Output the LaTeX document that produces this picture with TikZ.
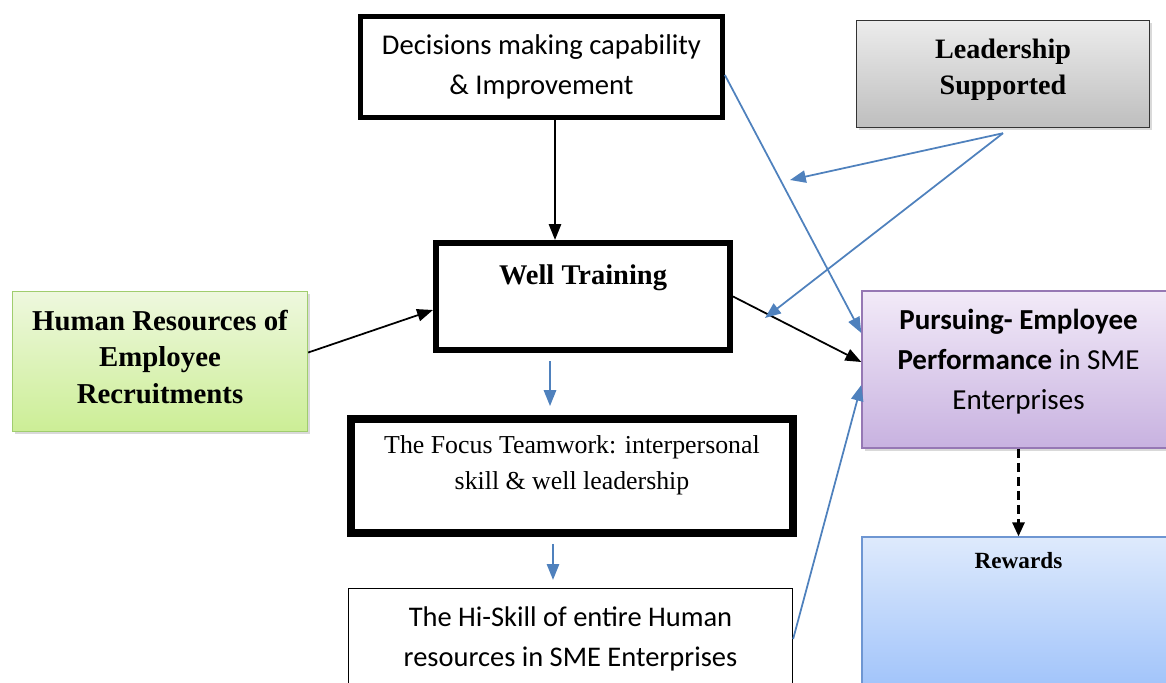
\documentclass[tikz,border=0pt]{standalone}
\usepackage{fontspec}
\setmainfont{Liberation Serif}
\newfontfamily\calfont{Carlito}
\usepackage{tikz}
\usetikzlibrary{arrows.meta,shadows}

\begin{document}
\begin{tikzpicture}[
  thickbox/.style={draw=black, align=center, inner sep=0pt},
  shadebox/.style={draw, align=center, inner sep=0pt,
    drop shadow={opacity=0.3, shadow xshift=1.5pt, shadow yshift=-1.5pt}},
  blk/.style={black, line width=1pt, -{Triangle[length=9pt,width=7pt]}},
  blu/.style={arrowblue, line width=1pt, -{Triangle[length=9pt,width=7pt]}}
]
% Define box colours
\definecolor{arrowblue}{RGB}{79,129,189}
\definecolor{leadtop}{RGB}{236,236,236}
\definecolor{leadbot}{RGB}{190,190,190}
\definecolor{hrtop}{RGB}{238,248,222}
\definecolor{hrbot}{RGB}{204,238,150}
\definecolor{hrline}{RGB}{160,205,110}
\definecolor{perftop}{RGB}{242,234,248}
\definecolor{perfbot}{RGB}{200,178,224}
\definecolor{perfline}{RGB}{150,120,180}
\definecolor{rewtop}{RGB}{222,234,252}
\definecolor{rewbot}{RGB}{160,195,250}
\definecolor{rewline}{RGB}{110,150,210}

\useasboundingbox (0,0) rectangle (23.32,-13.64);
\clip (0,0) rectangle (23.32,-13.64);

% Draw the boxes
\node[thickbox, line width=3pt, minimum width=7.23cm, minimum height=2.02cm,
  font=\calfont\fontsize{16.3}{22.8}\selectfont] (dec) at (10.83,-1.34)
  {Decisions making capability\\ \& Improvement};
\node[shadebox, draw=black!80, line width=0.8pt, top color=leadtop, bottom color=leadbot,
  minimum width=5.86cm, minimum height=2.14cm,
  font=\bfseries\fontsize{16}{20.5}\selectfont, text depth=8pt] (lead) at (20.06,-1.48)
  {Leadership\\Supported};
\node[thickbox, line width=3.5pt, minimum width=5.88cm, minimum height=2.14cm,
  font=\bfseries\fontsize{16.2}{20.5}\selectfont, text height=11pt, text depth=25pt] (train) at (11.66,-5.93)
  {Well Training};
\node[shadebox, draw=hrline, line width=0.8pt, top color=hrtop, bottom color=hrbot,
  minimum width=5.9cm, minimum height=2.8cm,
  font=\bfseries\fontsize{16.4}{20.8}\selectfont, text depth=5.6pt] (hr) at (3.2,-7.23)
  {Human Resources of\\Employee\\Recruitments};
\node[shadebox, draw=perfline, line width=0.8pt, top color=perftop, bottom color=perfbot,
  minimum width=6.26cm, minimum height=3.14cm,
  font=\calfont\fontsize{16.5}{22.8}\selectfont, text depth=12pt] (perf) at (20.37,-7.39)
  {\textbf{Pursuing- Employee}\\\textbf{Performance} in SME\\Enterprises};
\node[thickbox, line width=4.5pt, minimum width=8.84cm, minimum height=2.28cm,
  font=\fontsize{14.7}{20.5}\selectfont, text depth=15.6pt] (focus) at (11.44,-9.52)
  {The Focus Teamwork: interpersonal\\skill \& well leadership};
\node[thickbox, line width=0.7pt, minimum width=8.88cm, minimum height=2.02cm,
  font=\calfont\fontsize{16.2}{22.8}\selectfont] (hi) at (11.41,-12.78)
  {The Hi-Skill of entire Human\\resources in SME Enterprises};
\node[draw=rewline, line width=0.8pt, top color=rewtop, bottom color=rewbot, inner sep=0pt,
  minimum width=6.26cm, minimum height=3.06cm,
  font=\bfseries\fontsize{13.2}{15}\selectfont, text height=9pt, text depth=60pt] (rew) at (20.37,-12.27)
  {Rewards};

% Free ends of the leadership arrows
\coordinate (lead1) at (15.8,-3.6);
\coordinate (lead2) at (15.3,-6.36);

% Black arrows
\draw[blk] ([xshift=0.27cm]dec.south) -- ([xshift=-0.56cm]train.north);
\draw[blk] ([yshift=0.18cm]hr.east) -- ([yshift=-0.27cm]train.west);
\draw[blk] (train.east) -- ([yshift=0.15cm]perf.west);
\draw[blk, line width=1.3pt, dash pattern=on 5pt off 3pt, -{Triangle[length=8pt,width=7pt]}] (perf.south) -- (rew.north);

% Blue arrows
\draw[blu] ([xshift=-0.66cm,yshift=-0.16cm]train.south) -- ([xshift=-0.44cm,yshift=0.18cm]focus.north);
\draw[blu] ([xshift=-0.38cm,yshift=-0.14cm]focus.south) -- ([xshift=-0.35cm,yshift=0.16cm]hi.north);
\draw[blu] ([yshift=-0.16cm]dec.east) -- ([yshift=0.73cm]perf.west);
\draw[blu] ([yshift=-0.1cm]lead.south) -- (lead1);
\draw[blu] ([yshift=-0.1cm]lead.south) -- (lead2);
\draw[blu] (hi.east) -- ([yshift=-0.31cm]perf.west);
\end{tikzpicture}
\end{document}
